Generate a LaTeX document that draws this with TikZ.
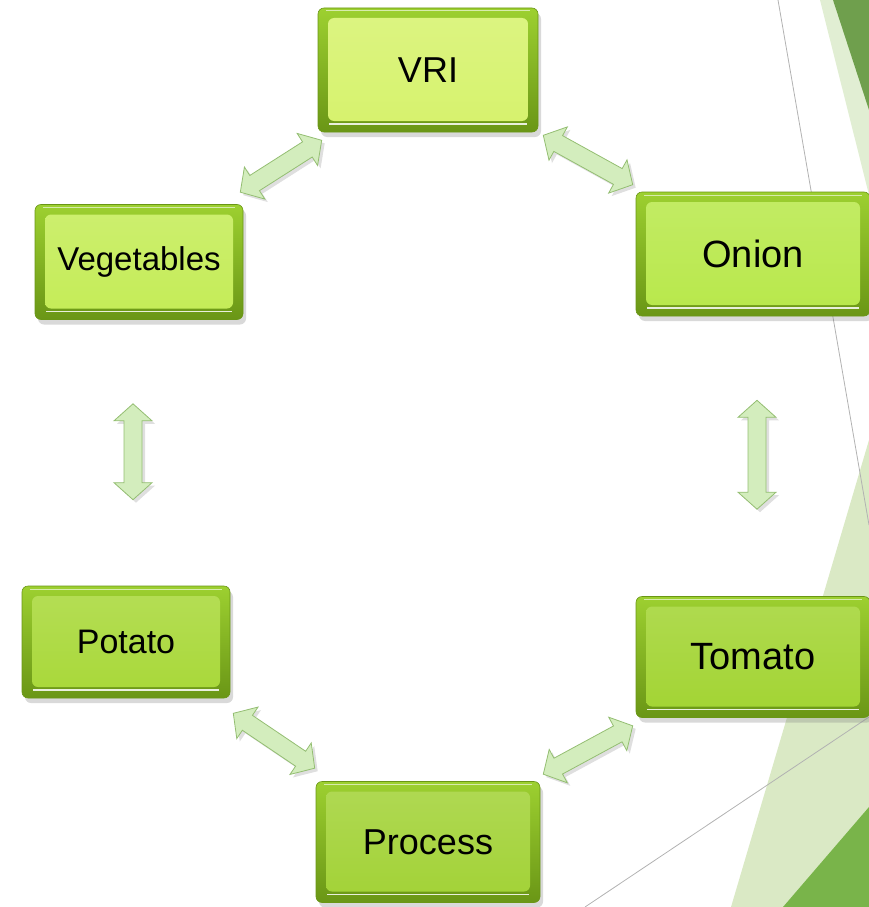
\documentclass[tikz,border=0pt]{standalone}
\usepackage{fontspec}
\setmainfont{Liberation Sans}
\usetikzlibrary{calc,shadows}

\definecolor{framehi}{HTML}{9DD030}
\definecolor{framelo}{HTML}{6A9616}
\definecolor{facevri}{HTML}{D6F26C}
\definecolor{faceveg}{HTML}{C4EC56}
\definecolor{faceonion}{HTML}{B8E84A}
\definecolor{facepotato}{HTML}{A8D838}
\definecolor{facetomato}{HTML}{A2D432}
\definecolor{faceprocess}{HTML}{A2D236}
\definecolor{arrowfill}{HTML}{D3EDBD}
\definecolor{arrowedge}{HTML}{94BE72}
\definecolor{bgdark}{HTML}{6F9F4D}
\definecolor{bglight}{HTML}{E1EED3}
\definecolor{bgdarkb}{HTML}{79B44A}
\definecolor{bglightb}{HTML}{DAE9C5}

% double block arrow between two points
\newcommand{\dblarrow}[2]{%
  \path (#1) coordinate (tipa) (#2) coordinate (tipb);
  \path ($(tipa)!17pt!(tipb)$) coordinate (basea) ($(tipb)!17pt!(tipa)$) coordinate (baseb);
  \draw[arrowbody] (tipa) -- ($(basea)!19pt!90:(tipb)$) -- ($(basea)!9pt!90:(tipb)$)
    -- ($(baseb)!9pt!-90:(tipa)$) -- ($(baseb)!19pt!-90:(tipa)$) -- (tipb)
    -- ($(baseb)!19pt!90:(tipa)$) -- ($(baseb)!9pt!90:(tipa)$)
    -- ($(basea)!9pt!-90:(tipb)$) -- ($(basea)!19pt!-90:(tipb)$) -- cycle;
}

\begin{document}
\begin{tikzpicture}[
    x=1pt, y=-1pt,
    box/.style={rectangle, rounded corners=6pt, draw=framelo, line width=0.6pt,
      top color=framehi, bottom color=framelo, text=black,
      font=\fontsize{36}{40}\selectfont,
      drop shadow={shadow xshift=3pt, shadow yshift=-5pt, opacity=.3}},
    bevel/.style={path picture={
      \shade[top color=#1!85!white, bottom color=#1]
        ([shift={(10pt,11pt)}]path picture bounding box.south west) rectangle
        ([shift={(-10pt,-10pt)}]path picture bounding box.north east);
      \draw[white, line width=1.8pt, opacity=.85]
        ([shift={(11pt,8pt)}]path picture bounding box.south west) --
        ([shift={(-11pt,8pt)}]path picture bounding box.south east);
      \draw[white, line width=1pt, opacity=.6]
        ([shift={(8pt,-3pt)}]path picture bounding box.north west) --
        ([shift={(-8pt,-3pt)}]path picture bounding box.north east);
    }},
    arrowbody/.style={fill=arrowfill, draw=arrowedge, line width=0.8pt, line join=miter,
      drop shadow={shadow xshift=3pt, shadow yshift=-3pt, opacity=.25}},
    bgline/.style={draw=gray!60, line width=0.8pt}
]
    \useasboundingbox (0,0) rectangle (869,907);
    \clip (0,0) rectangle (869,907);

    % background
    \fill[bglight] (820,0) -- (869,0) -- (869,195) -- cycle;
    \fill[bgdark] (833,0) -- (869,0) -- (869,110) -- cycle;
    \fill[bglightb] (869,440) -- (869,907) -- (731,907) -- cycle;
    \fill[bgdarkb] (869,807) -- (869,907) -- (783,907) -- cycle;
    \draw[bgline] (778,0) -- (869,525);
    \draw[bgline] (585,907) -- (869,717);

    % boxes
    \node[box, bevel=facevri, minimum width=220pt, minimum height=124pt] (vri) at (428,70) {VRI};
    \node[box, bevel=faceveg, minimum width=208pt, minimum height=115pt,
      font=\fontsize{33}{38}\selectfont] (veg) at (139,262) {Vegetables};
    \node[box, bevel=faceonion, minimum width=234pt, minimum height=124pt,
      font=\fontsize{38}{42}\selectfont] (onion) at (753,254) {Onion};
    \node[box, bevel=facepotato, minimum width=208pt, minimum height=112pt,
      font=\fontsize{34}{40}\selectfont] (potato) at (126,642) {Potato};
    \node[box, bevel=facetomato, minimum width=234pt, minimum height=121pt,
      font=\fontsize{38}{42}\selectfont] (tomato) at (753,657) {Tomato};
    \node[box, bevel=faceprocess, minimum width=224pt, minimum height=121pt] (process) at (428,842) {Process};

    % arrows
    \dblarrow{[shift={(4,8)}]vri.south west}{[shift={(-3,-12)}]veg.north east}
    \dblarrow{[shift={(5,3)}]vri.south east}{[shift={(-3,-7)}]onion.north west}
    \dblarrow{[shift={(-6,84)}]veg.south}{[shift={(7,-86)}]potato.north}
    \dblarrow{[shift={(4,84)}]onion.south}{[shift={(4,-87)}]tomato.north}
    \dblarrow{[shift={(3,15)}]potato.south east}{[shift={(-1,-13)}]process.north west}
    \dblarrow{[shift={(-3,8)}]tomato.south west}{[shift={(3,-7)}]process.north east}
\end{tikzpicture}
\end{document}
